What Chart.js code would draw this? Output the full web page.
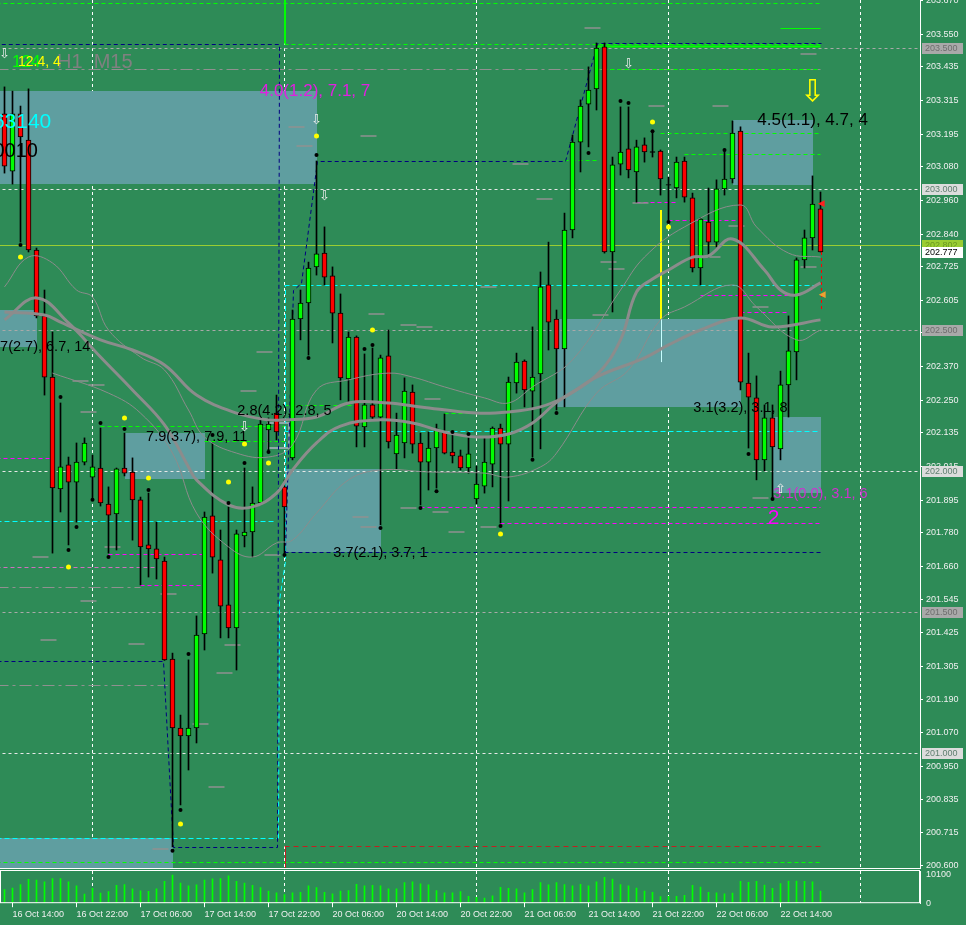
<!DOCTYPE html>
<html>
<head>
<meta charset="utf-8">
<script src="https://cdn.jsdelivr.net/npm/chart.js@4.4.1/dist/chart.umd.min.js"></script>
<style>
  html, body { margin: 0; padding: 0; background: #2e8b57; }
  #wrap { position: relative; width: 966px; height: 925px; overflow: hidden; }
  #priceChart { position: absolute; left: 0; top: 0; }
  #volChart { position: absolute; left: 0; top: 869px; }
</style>
</head>
<body>
<div id="wrap">
  <canvas id="priceChart" width="966" height="869"></canvas>
  <canvas id="volChart" width="966" height="56"></canvas>
</div>
<script>
'use strict';

/* ── Data (H1 candles, 16 Oct 13:00 → 22 Oct 19:00) ── */

var opens = [
  203.267, 203.064, 203.267, 203.174, 202.784, 202.550, 202.333, 201.936, 202.021, 201.960,
  202.031, 201.978, 202.010, 201.882, 201.847, 202.010, 201.996, 201.897, 201.737, 201.723,
  201.680, 201.332, 201.087, 201.059, 201.087, 201.421, 201.840, 201.684, 201.524, 201.442,
  201.769, 201.783, 201.886, 202.145, 202.205, 201.943, 202.046, 202.539, 202.596, 202.724,
  202.773, 202.692, 202.560, 202.326, 202.475, 202.156, 202.234, 202.191, 202.408, 202.060,
  202.099, 202.280, 202.099, 202.031, 202.081, 202.138, 202.067, 202.053, 202.010, 201.900,
  201.946, 202.024, 202.152, 202.095, 202.312, 202.390, 202.283, 202.344, 202.660, 202.539,
  202.433, 202.855, 203.167, 203.302, 203.356, 203.505, 202.777, 203.089, 203.143, 203.061,
  203.157, 203.132, 203.135, 203.015, 203.004, 203.100, 202.969, 202.720, 202.883, 202.812,
  203.001, 203.036, 203.206, 202.312, 202.259, 202.039, 202.188, 202.078, 202.305, 202.422,
  202.749, 202.827, 202.930
];
var highs = [
  203.363, 203.348, 203.295, 203.356, 202.791, 202.642, 202.493, 202.241, 202.049, 202.099,
  202.117, 202.056, 202.152, 201.943, 202.010, 202.134, 202.046, 201.907, 201.921, 201.818,
  201.694, 201.353, 201.133, 201.329, 201.485, 201.854, 202.099, 201.790, 201.872, 201.790,
  202.010, 201.943, 202.181, 202.188, 202.269, 201.968, 202.571, 202.642, 202.741, 203.100,
  202.866, 202.724, 202.628, 202.493, 202.479, 202.415, 202.436, 202.411, 202.500, 202.205,
  202.330, 202.305, 202.134, 202.138, 202.166, 202.202, 202.127, 202.074, 202.120, 202.017,
  202.120, 202.156, 202.166, 202.333, 202.418, 202.394, 202.511, 202.706, 202.812, 202.571,
  202.915, 203.192, 203.317, 203.434, 203.519, 203.519, 203.114, 203.292, 203.292, 203.174,
  203.182, 203.199, 203.139, 203.043, 203.114, 203.114, 202.986, 202.898, 203.004, 203.033,
  203.139, 203.242, 203.221, 202.418, 202.337, 202.234, 202.234, 202.354, 202.550, 202.756,
  202.855, 203.047, 202.990
];
var lows = [
  203.057, 203.018, 202.812, 202.777, 202.543, 202.269, 201.708, 201.854, 201.737, 201.818,
  202.021, 201.897, 201.875, 201.708, 201.719, 201.982, 201.754, 201.595, 201.623, 201.616,
  201.327, 200.665, 200.814, 200.938, 201.034, 201.364, 201.637, 201.407, 201.407, 201.293,
  201.730, 201.694, 201.879, 202.067, 202.110, 201.701, 202.039, 202.465, 202.411, 202.695,
  202.660, 202.454, 202.252, 202.245, 202.085, 202.085, 202.181, 201.808, 202.081, 202.007,
  202.046, 202.063, 201.879, 201.932, 201.939, 202.060, 202.028, 202.003, 201.992, 201.882,
  201.921, 201.943, 201.815, 201.893, 202.276, 202.227, 202.049, 202.078, 202.429, 202.216,
  202.227, 202.827, 203.061, 203.150, 203.281, 202.773, 202.564, 203.050, 203.040, 202.954,
  203.096, 203.114, 202.979, 202.883, 202.969, 202.954, 202.706, 202.660, 202.759, 202.795,
  202.979, 203.022, 202.287, 202.081, 201.968, 202.000, 201.897, 202.039, 202.191, 202.323,
  202.720, 202.784, 202.777
];
var closes = [
  203.082, 203.267, 203.185, 202.784, 202.550, 202.333, 201.939, 202.014, 201.960, 202.031,
  202.099, 202.014, 201.886, 201.843, 202.007, 201.992, 201.897, 201.730, 201.723, 201.687,
  201.329, 201.087, 201.059, 201.087, 201.417, 201.836, 201.694, 201.520, 201.442, 201.776,
  201.783, 201.886, 202.166, 202.166, 202.138, 201.872, 202.539, 202.596, 202.720, 202.770,
  202.688, 202.560, 202.330, 202.475, 202.159, 202.234, 202.191, 202.401, 202.103, 202.127,
  202.283, 202.095, 202.031, 202.081, 202.149, 202.063, 202.053, 202.010, 202.060, 201.953,
  202.031, 202.152, 202.095, 202.315, 202.386, 202.287, 202.333, 202.653, 202.528, 202.433,
  202.855, 203.167, 203.295, 203.352, 203.501, 202.777, 203.086, 203.132, 203.068, 203.150,
  203.132, 203.132, 203.036, 203.015, 203.096, 202.972, 202.720, 202.894, 202.812, 203.001,
  203.036, 203.199, 202.315, 202.262, 202.039, 202.188, 202.085, 202.305, 202.426, 202.749,
  202.827, 202.947, 202.777
];
var volumes = [
  4700, 5300, 6500, 8300, 8000, 7400, 8600, 8600, 7400, 6000,
  3200, 5200, 3500, 4000, 6200, 6500, 5000, 4300, 4100, 5000,
  7600, 9800, 7000, 6000, 6400, 8000, 8500, 8600, 9500, 7600,
  7000, 6200, 5400, 4200, 3600, 3000, 3600, 3800, 6000, 5400,
  3800, 3300, 4200, 4400, 6600, 6000, 6200, 6000, 5000, 5000,
  7200, 7400, 6700, 6400, 4400, 3600, 3600, 4000, 2400, 2000,
  1800, 2600, 5500, 5200, 5000, 3600, 4700, 7200, 6400, 7200,
  6500, 6000, 6600, 6000, 7400, 9000, 8400, 6500, 6000, 5300,
  4200, 3800, 2300, 2400, 2400, 2700, 6200, 5600, 3800, 3600,
  3300, 3500, 7600, 7300, 7600, 6300, 5200, 6800, 7700, 7700,
  7600, 7400, 4200
];

/* moving averages / bands, read at sample bars: [bar, price] */
var maFast = [[0,202.536],[4,202.614],[8,202.525],[12,202.404],[16,202.287],[20,202.163],[23,202.014],
  [24,201.968],[28,201.879],[31,201.872],[34,201.921],[36,202.003],[39,202.099],[42,202.159],[47,202.181],
  [51,202.170],[55,202.138],[59,202.120],[63,202.131],[66,202.170],[69,202.243],[74,202.340],[77,202.465],
  [79,202.635],[81,202.681],[83,202.713],[86,202.759],[88,202.763],[91,202.823],[95,202.713],[97,202.642],
  [99,202.624],[102,202.667]];
var maSlow = [[0,202.564],[5,202.553],[7,202.528],[12,202.465],[16,202.429],[20,202.376],[24,202.269],
  [29,202.205],[33,202.181],[35,202.181],[39,202.191],[43,202.241],[48,202.241],[52,202.227],[59,202.205],
  [63,202.209],[67,202.227],[70,202.262],[74,202.333],[80,202.401],[83,202.447],[87,202.500],[92,202.543],
  [96,202.511],[102,202.536]];
var bandUp = [[0,202.653],[3,202.759],[6,202.738],[9,202.642],[11,202.617],[13,202.500],[17,202.404],
  [20,202.358],[23,202.216],[25,202.120],[29,202.063],[33,202.049],[36,202.092],[39,202.287],[43,202.323],
  [48,202.347],[51,202.333],[55,202.298],[60,202.259],[63,202.241],[66,202.298],[71,202.394],[77,202.642],
  [80,202.759],[85,202.866],[92,202.944],[94,202.866],[98,202.773],[102,202.759]];
var bandLow = [[6,202.347],[13,202.276],[17,202.205],[21,202.063],[24,201.850],[28,201.730],[31,201.694],
  [34,201.744],[36,201.754],[39,201.850],[43,201.968],[47,202.003],[53,201.996],[60,201.992],[63,201.978],
  [67,202.014],[69,202.063],[74,202.276],[78,202.358],[82,202.536],[85,202.582],[91,202.660],[94,202.582],
  [99,202.465],[102,202.500]];

var blackDots = [[2,202.802],[7,202.262],[8,201.719],[9,201.801],[11,201.897],[12,202.170],[13,201.694],
  [15,202.149],[18,201.932],[21,200.651],[22,200.796],[23,201.350],[26,202.127],[28,201.886],[30,202.028],
  [33,202.067],[35,201.701],[38,202.401],[39,203.121],[45,202.433],[46,202.447],[47,201.797],[52,201.868],
  [54,201.928],[56,202.138],[58,202.131],[62,201.804],[66,202.039],[69,202.205],[73,203.128],[77,203.313],
  [78,203.306],[81,203.206],[83,202.883],[90,203.139],[93,202.060],[96,201.900]];
var yellowDots = [[2,202.759],[8,201.659],[15,202.188],[18,201.975],[22,200.746],[28,201.960],[30,202.095],
  [33,202.028],[39,203.189],[46,202.500],[62,201.776],[81,203.238],[83,202.866]];

/* short grey level marks: [first bar, price], each two bars long */
var levelMarks = [[36,203.221],[37,203.153],[45,203.189],[64,203.089],[67,202.965],[60,202.653],
  [73,203.572],[81,203.295],[89,203.295],[100,203.480],[75,202.741],[76,202.717],[88,202.759],[91,202.869],
  [79,202.951],[100,202.724],[4,201.694],[9,202.319],[10,202.209],[11,202.305],[30,202.283],[32,202.422],
  [13,201.730],[33,201.701],[46,202.557],[50,202.518],[52,202.511],[53,202.255],[50,201.868],[54,201.854],
  [56,201.783],[60,201.801],[44,201.836],[45,201.801],[74,202.553],[94,202.582],[94,201.904],[5,201.400],
  [10,201.538],[16,201.385],[20,201.563],[24,201.101],[26,200.878],[27,201.282],[28,201.382],[19,200.658]];

var priceTicks = [203.670, 203.550, 203.435, 203.315, 203.195, 203.080, 202.960, 202.840, 202.725,
  202.605, 202.490, 202.370, 202.250, 202.135, 202.015, 201.895, 201.780, 201.660, 201.545, 201.425,
  201.305, 201.190, 201.070, 200.950, 200.835, 200.715, 200.600];
var volTicks = [10100, 0];
var timeTickBars = [1, 9, 17, 25, 33, 41, 49, 57, 65, 73, 81, 89, 97];
var timeTickText = ['16 Oct 14:00', '16 Oct 22:00', '17 Oct 06:00', '17 Oct 14:00', '17 Oct 22:00',
  '20 Oct 06:00', '20 Oct 14:00', '20 Oct 22:00', '21 Oct 06:00', '21 Oct 14:00', '21 Oct 22:00',
  '22 Oct 06:00', '22 Oct 14:00'];
var dayBars = [11, 35, 59, 83, 107];

/* ── Overlay objects (bar / price coordinates) ── */

var zones = [
  { from: -1, to: 39, top: 203.348, bottom: 203.018 },
  { from: -1, to: 4, top: 202.571, bottom: 202.440 },
  { from: 15, to: 25, top: 202.134, bottom: 201.971 },
  { from: 35, to: 47, top: 202.007, bottom: 201.712 },
  { from: 69, to: 92, top: 202.539, bottom: 202.227 },
  { from: 91, to: 101, top: 203.245, bottom: 203.015 },
  { from: 96, to: 102, top: 202.191, bottom: 201.921 },
  { from: -1, to: 21, top: 200.697, bottom: 200.55 }
];
var outlineBoxes = [
  { from: 32.9, to: 35.6, top: 202.170, bottom: 202.081, color: '#8fa8a8' }
];

var GREEN = '#00ff00', MAGENTA = '#ff00ff', NAVY = '#000080', CYAN = '#00ffff';
var levels = [
  { p: 203.5, from: -1, to: 115, color: '#a9a9a9', dash: [3, 3] },
  { p: 203.0, from: -1, to: 115, color: '#e8e8e8', dash: [3, 3] },
  { p: 202.5, from: -1, to: 115, color: '#a9a9a9', dash: [3, 3] },
  { p: 202.0, from: -1, to: 115, color: '#e8e8e8', dash: [3, 3] },
  { p: 201.5, from: -1, to: 115, color: '#a9a9a9', dash: [3, 3] },
  { p: 201.0, from: -1, to: 115, color: '#e8e8e8', dash: [3, 3] },
  { p: 203.660, from: -1, to: 102, color: GREEN, dash: [4, 3] },
  { p: 203.427, from: -1, to: 102, color: '#909090', dash: [12, 4, 3, 4] },
  { p: 201.588, from: -1, to: 17, color: '#909090', dash: [12, 4, 3, 4] },
  { p: 201.240, from: -1, to: 20.4, color: '#909090', dash: [12, 4, 3, 4] },
  { p: 203.427, from: 74, to: 102, color: GREEN, dash: [4, 3] },
  { p: 203.516, from: 35, to: 102, color: GREEN, dash: [4, 3] },
  { p: 203.509, from: 74, to: 102, color: GREEN, dash: [], width: 2 },
  { p: 203.572, from: 97, to: 102, color: GREEN, dash: [] },
  { p: 203.199, from: 82, to: 102, color: GREEN, dash: [4, 3] },
  { p: 203.125, from: 85, to: 102, color: GREEN, dash: [4, 3] },
  { p: 203.104, from: 70, to: 74, color: GREEN, dash: [4, 3] },
  { p: 202.159, from: 12, to: 35, color: GREEN, dash: [4, 3] },
  { p: 202.106, from: 25, to: 35, color: GREEN, dash: [4, 3] },
  { p: 202.234, from: 35, to: 44, color: GREEN, dash: [4, 3] },
  { p: 202.205, from: 55, to: 58, color: GREEN, dash: [4, 3] },
  { p: 200.612, from: -1, to: 102, color: GREEN, dash: [4, 3] },
  { p: 202.660, from: 35, to: 102, color: CYAN, dash: [5, 3] },
  { p: 202.142, from: 35, to: 102, color: CYAN, dash: [5, 3] },
  { p: 201.823, from: -1, to: 34, color: CYAN, dash: [5, 3] },
  { p: 200.697, from: -1, to: 34.2, color: CYAN, dash: [5, 3] },
  { p: 201.711, from: 35, to: 102, color: NAVY, dash: [4, 3] },
  { p: 202.046, from: -1, to: 6, color: MAGENTA, dash: [4, 3] },
  { p: 201.704, from: 13, to: 25, color: MAGENTA, dash: [4, 3] },
  { p: 201.659, from: -1, to: 19, color: '#d070c0', dash: [4, 3] },
  { p: 201.595, from: 17, to: 25, color: MAGENTA, dash: [4, 3] },
  { p: 201.872, from: 52, to: 102, color: MAGENTA, dash: [4, 3] },
  { p: 201.815, from: 62, to: 102, color: MAGENTA, dash: [4, 3] },
  { p: 202.624, from: 87, to: 98, color: MAGENTA, dash: [4, 3] },
  { p: 202.564, from: 92, to: 98, color: MAGENTA, dash: [4, 3] },
  { p: 202.954, from: 79, to: 84, color: MAGENTA, dash: [4, 3] },
  { p: 202.891, from: 83, to: 92, color: MAGENTA, dash: [4, 3] },
  { p: 200.669, from: 35, to: 102, color: '#c02020', dash: [5, 4] },
  { p: 202.802, from: -1, to: 115, color: '#9acd32', dash: [] }
];

var paths = [
  { pts: [[-1, 201.325], [19.8, 201.325], [21, 200.665], [34.1, 200.665], [34.3, 203.515], [-1, 203.515]], color: NAVY, dash: [4, 3] },
  { pts: [[35, 201.711], [36.1, 202.642], [37, 202.667], [39, 203.100], [70, 203.100], [74, 203.519], [102, 203.519]], color: NAVY, dash: [4, 3] },
  { pts: [[34.2, 200.697], [34.3, 201.542], [35, 201.680], [35.1, 202.660]], color: CYAN, dash: [5, 3] }
];

var vlines = [
  { i: 35, p1: 203.516, p2: 203.70, color: GREEN, dash: [], width: 2 },
  { i: 82, p1: 202.926, p2: 202.538, color: '#ffff00', dash: [], width: 2 },
  { i: 82, p1: 202.538, p2: 202.386, color: '#c8ffff', dash: [], width: 1 },
  { i: 102, p1: 202.777, p2: 202.571, color: '#ff0000', dash: [3, 3], width: 1 },
  { i: 35, p1: 200.669, p2: 200.58, color: '#c02020', dash: [], width: 1 }
];

var notes = [
  { i: 31.9, p: 203.348, text: '4.0(1.2), 7.1, 7', color: '#e020e0', size: 17 },
  { i: 94.1, p: 203.245, text: '4.5(1.1), 4.7, 4', color: '#000000', size: 17 },
  { i: 86.1, p: 202.222, text: '3.1(3.2), 3.1, 8', color: '#000000', size: 14.5 },
  { i: 41.1, p: 201.708, text: '3.7(2.1), 3.7, 1', color: '#000000', size: 14.5 },
  { i: 29.1, p: 202.213, text: '2.8(4.2), 2.8, 5', color: '#000000', size: 14.5 },
  { i: 17.7, p: 202.120, text: '7.9(3.7), 7.9, 11', color: '#000000', size: 14.5 },
  { i: -2.06, p: 202.440, text: '6.7(2.7), 6.7, 14', color: '#000000', size: 14.5 },
  { i: 96.1, p: 201.918, text: '3.1(0.0), 3.1, 6', color: '#d030d0', size: 14.5 },
  { i: 95.4, p: 201.833, text: '2', color: '#ff00ff', size: 21 },
  { i: 6.56, p: 203.451, text: 'H1  M15', color: '#808080', size: 20 },
  { i: 0.94, p: 203.451, text: '124', color: '#00ff00', size: 17 },
  { i: 1.69, p: 203.451, text: '12.4, 4', color: '#ffff00', size: 14 },
  { i: -1.45, p: 203.238, text: '63140', color: '#00ffff', size: 21 },
  { i: -1.38, p: 203.132, text: '0010', color: '#000000', size: 20 }
];

var arrows = [
  { i: 0, p: 203.476, glyph: '\u21e9', color: '#eeeeee', size: 13 },
  { i: 30, p: 202.152, glyph: '\u21e9', color: '#eeeeee', size: 13 },
  { i: 39, p: 203.245, glyph: '\u21e9', color: '#eeeeee', size: 13 },
  { i: 40, p: 202.972, glyph: '\u21e9', color: '#eeeeee', size: 13 },
  { i: 78, p: 203.441, glyph: '\u21e9', color: '#eeeeee', size: 13 },
  { i: 97, p: 201.932, glyph: '\u21e7', color: '#eeeeee', size: 13 },
  { i: 101, p: 203.341, glyph: '\u21e9', color: '#ffff00', size: 30 },
  { i: 102.1, p: 202.948, glyph: '\u25c0', color: '#ff2020', size: 9 },
  { i: 102.2, p: 202.624, glyph: '\u25c0', color: '#f0a030', size: 9 }
];

var tags = [
  { p: 203.500, text: '203.500', bg: '#a9a9a9', fg: '#6e6e6e' },
  { p: 203.000, text: '203.000', bg: '#dcdcdc', fg: '#5f7f6f' },
  { p: 202.500, text: '202.500', bg: '#a9a9a9', fg: '#6e6e6e' },
  { p: 202.000, text: '202.000', bg: '#dcdcdc', fg: '#5f7f6f' },
  { p: 201.500, text: '201.500', bg: '#a9a9a9', fg: '#6e6e6e' },
  { p: 201.000, text: '201.000', bg: '#dcdcdc', fg: '#5f7f6f' },
  { p: 202.802, text: '202.802', bg: '#9acd32', fg: '#6b9a20' },
  { p: 202.777, text: '202.777', bg: '#ffffff', fg: '#000000' }
];

/* ── Chart setup ─────────────────────────────────────── */

Chart.defaults.font.family = "'Liberation Sans', Arial, sans-serif";
var X_MIN = -0.5625, X_MAX = 114.4375;   // 115 bar slots, 8px each
var AXIS_W = 46;
var TEXT_COL = '#f0f0f0';

function xpx(chart, i) { return chart.scales.x.getPixelForValue(i); }
function ypx(chart, p) { return chart.scales.y.getPixelForValue(p); }
function pts(list) { return list.map(function (d) { return { x: d[0], y: d[1] }; }); }

var bodyData = [], wickData = [], bodyColors = [];
for (var i = 0; i < opens.length; i++) {
  var o = opens[i], c = closes[i];
  bodyData.push({ x: i, y: Math.abs(o - c) < 0.002 ? [o - 0.0012, o + 0.0012] : [o, c] });
  wickData.push({ x: i, y: [lows[i], highs[i]] });
  bodyColors.push(c > o ? '#00ff00' : (c < o ? '#ff0000' : '#000000'));
}

var overlayPlugin = {
  id: 'overlays',
  beforeDatasetsDraw: function (chart) {
    var ctx = chart.ctx, a = chart.chartArea;
    ctx.save();
    ctx.beginPath();
    ctx.rect(a.left, a.top, a.right - a.left, a.bottom - a.top);
    ctx.clip();

    ctx.fillStyle = '#5f9ea0';
    zones.forEach(function (z) {
      var x1 = Math.round(xpx(chart, z.from)), x2 = Math.round(xpx(chart, z.to));
      var y1 = Math.round(ypx(chart, z.top)), y2 = Math.round(ypx(chart, z.bottom));
      ctx.fillRect(x1, y1, x2 - x1, y2 - y1);
    });
    outlineBoxes.forEach(function (b) {
      var x1 = Math.round(xpx(chart, b.from)), x2 = Math.round(xpx(chart, b.to));
      var y1 = Math.round(ypx(chart, b.top)), y2 = Math.round(ypx(chart, b.bottom));
      ctx.strokeStyle = b.color;
      ctx.lineWidth = 2;
      ctx.setLineDash([]);
      ctx.strokeRect(x1, y1, x2 - x1, y2 - y1);
    });

    levels.forEach(function (l) {
      var y = Math.round(ypx(chart, l.p)) + 0.5;
      ctx.strokeStyle = l.color;
      ctx.lineWidth = l.width || 1;
      ctx.setLineDash(l.dash);
      ctx.beginPath();
      ctx.moveTo(xpx(chart, l.from), y);
      ctx.lineTo(xpx(chart, l.to), y);
      ctx.stroke();
    });

    ctx.strokeStyle = '#909090';
    ctx.lineWidth = 1.5;
    ctx.setLineDash([]);
    levelMarks.forEach(function (m) {
      var y = Math.round(ypx(chart, m[1]));
      ctx.beginPath();
      ctx.moveTo(xpx(chart, m[0] - 0.5), y);
      ctx.lineTo(xpx(chart, m[0] + 1.5), y);
      ctx.stroke();
    });

    paths.forEach(function (pth) {
      ctx.strokeStyle = pth.color;
      ctx.lineWidth = 1;
      ctx.setLineDash(pth.dash);
      ctx.beginPath();
      pth.pts.forEach(function (pt, k) {
        var x = Math.round(xpx(chart, pt[0])) + 0.5, y = Math.round(ypx(chart, pt[1])) + 0.5;
        if (k === 0) ctx.moveTo(x, y); else ctx.lineTo(x, y);
      });
      ctx.stroke();
    });

    vlines.forEach(function (v) {
      var x = Math.round(xpx(chart, v.i)) + (v.width === 2 ? 0 : 0.5);
      ctx.strokeStyle = v.color;
      ctx.lineWidth = v.width;
      ctx.setLineDash(v.dash);
      ctx.beginPath();
      ctx.moveTo(x, ypx(chart, v.p1));
      ctx.lineTo(x, ypx(chart, v.p2));
      ctx.stroke();
    });
    ctx.restore();
  },
  afterDatasetsDraw: function (chart) {
    var ctx = chart.ctx, a = chart.chartArea;
    ctx.save();
    ctx.beginPath();
    ctx.rect(a.left, a.top, a.right - a.left, a.bottom - a.top);
    ctx.clip();
    ctx.textBaseline = 'middle';
    notes.forEach(function (n) {
      ctx.font = n.size + "px 'Liberation Sans', Arial, sans-serif";
      ctx.fillStyle = n.color;
      ctx.textAlign = 'left';
      ctx.fillText(n.text, xpx(chart, n.i), ypx(chart, n.p));
    });
    arrows.forEach(function (ar) {
      ctx.font = ar.size + "px 'DejaVu Sans', sans-serif";
      ctx.fillStyle = ar.color;
      ctx.textAlign = 'center';
      ctx.fillText(ar.glyph, xpx(chart, ar.i), ypx(chart, ar.p));
    });
    ctx.restore();
  },
  afterDraw: function (chart) {
    var ctx = chart.ctx, a = chart.chartArea;
    ctx.save();
    ctx.strokeStyle = '#ffffff';
    ctx.lineWidth = 1;
    ctx.beginPath();
    ctx.moveTo(a.left, a.bottom - 0.5);
    ctx.lineTo(a.right, a.bottom - 0.5);
    ctx.stroke();
    ctx.font = "9px 'Liberation Sans', Arial, sans-serif";
    ctx.textBaseline = 'middle';
    ctx.textAlign = 'left';
    tags.forEach(function (t) {
      var y = Math.round(ypx(chart, t.p));
      ctx.fillStyle = t.bg;
      ctx.fillRect(a.right + 2, y - 5, 41, 11);
      ctx.fillStyle = t.fg;
      ctx.fillText(t.text, a.right + 5, y + 0.5);
    });
    ctx.restore();
  }
};

new Chart(document.getElementById('priceChart'), {
  type: 'bar',
  data: {
    datasets: [
      { type: 'line', data: pts(blackDots), showLine: false, pointRadius: 2, pointBackgroundColor: '#000000', pointBorderWidth: 0, order: -2 },
      { type: 'line', data: pts(yellowDots), showLine: false, pointRadius: 2.5, pointBackgroundColor: '#ffff00', pointBorderWidth: 0, order: -2 },
      { type: 'line', data: pts(maFast), borderColor: '#8c8c8c', borderWidth: 3, pointRadius: 0, tension: 0.4, order: -1 },
      { type: 'line', data: pts(maSlow), borderColor: '#8c8c8c', borderWidth: 3, pointRadius: 0, tension: 0.4, order: -1 },
      { type: 'line', data: pts(bandUp), borderColor: '#8c8c8c', borderWidth: 1, pointRadius: 0, tension: 0.4, order: -1 },
      { type: 'line', data: pts(bandLow), borderColor: '#8c8c8c', borderWidth: 1, pointRadius: 0, tension: 0.4, order: -1 },
      { data: bodyData, backgroundColor: bodyColors, borderColor: '#000000', borderWidth: 1, borderSkipped: false,
        barThickness: 5, grouped: false, order: 1 },
      { data: wickData, backgroundColor: '#000000', barThickness: 1, grouped: false, order: 2 }
    ]
  },
  options: {
    responsive: false,
    animation: false,
    events: [],
    layout: { padding: 0, autoPadding: false },
    plugins: { legend: { display: false }, tooltip: { enabled: false } },
    scales: {
      x: {
        type: 'linear', min: X_MIN, max: X_MAX, offset: false,
        afterBuildTicks: function (s) { s.ticks = dayBars.map(function (v) { return { value: v }; }); },
        afterFit: function (s) { s.paddingLeft = 0; s.paddingRight = 0; },
        ticks: { display: false },
        grid: { color: '#ffffff', drawTicks: false, offset: false },
        border: { display: false, dash: [3, 3] }
      },
      y: {
        position: 'right', min: 200.5866, max: 203.6715, beginAtZero: false,
        afterBuildTicks: function (s) { s.ticks = priceTicks.map(function (v) { return { value: v }; }); },
        afterFit: function (s) { s.width = AXIS_W; s.paddingTop = 0; s.paddingBottom = 0; },
        ticks: { color: TEXT_COL, font: { size: 9 }, padding: 3, callback: function (v) { return v.toFixed(3); } },
        grid: { drawOnChartArea: false, tickLength: 3, color: '#ffffff' },
        border: { display: true, color: '#ffffff' }
      }
    }
  },
  plugins: [overlayPlugin]
});

/* ── Volume sub-window ──────────────────────────────── */

var volFrame = {
  id: 'volFrame',
  afterDraw: function (chart) {
    var ctx = chart.ctx, a = chart.chartArea;
    ctx.save();
    ctx.strokeStyle = '#ffffff';
    ctx.lineWidth = 1;
    ctx.strokeRect(a.left + 0.5, a.top - 0.5, a.right - a.left - 1, a.bottom - a.top);
    ctx.restore();
  }
};

new Chart(document.getElementById('volChart'), {
  type: 'bar',
  data: {
    datasets: [{
      data: volumes.map(function (v, k) { return { x: k, y: v }; }),
      backgroundColor: '#00ff00', barThickness: 1, grouped: false
    }]
  },
  options: {
    responsive: false,
    animation: false,
    events: [],
    layout: { padding: { top: 2, bottom: 3, left: 0, right: 0 }, autoPadding: false },
    plugins: { legend: { display: false }, tooltip: { enabled: false } },
    scales: {
      x: {
        type: 'linear', min: X_MIN, max: X_MAX, offset: false,
        afterBuildTicks: function (s) {
          s.ticks = timeTickBars.concat(dayBars).map(function (v) { return { value: v }; });
        },
        afterFit: function (s) { s.paddingLeft = 0; s.paddingRight = 0; },
        ticks: {
          autoSkip: false, maxRotation: 0, minRotation: 0, align: 'start', padding: 2,
          color: TEXT_COL, font: { size: 9 },
          callback: function (v) { var k = timeTickBars.indexOf(v); return k < 0 ? '' : timeTickText[k]; }
        },
        grid: {
          offset: false, tickLength: 4,
          color: function (c) { return c.tick && dayBars.indexOf(c.tick.value) >= 0 ? '#ffffff' : 'rgba(0,0,0,0)'; },
          tickColor: function (c) { return c.tick && timeTickBars.indexOf(c.tick.value) >= 0 ? '#ffffff' : 'rgba(0,0,0,0)'; }
        },
        border: { display: false, dash: [3, 3] }
      },
      y: {
        position: 'right', min: 0, max: 11200, beginAtZero: true,
        afterBuildTicks: function (s) { s.ticks = volTicks.map(function (v) { return { value: v }; }); },
        afterFit: function (s) { s.width = AXIS_W; s.paddingTop = 0; s.paddingBottom = 0; },
        ticks: { color: TEXT_COL, font: { size: 9 }, padding: 6, callback: function (v) { return String(v); } },
        grid: { drawOnChartArea: false, drawTicks: false },
        border: { display: true, color: '#ffffff' }
      }
    }
  },
  plugins: [volFrame]
});
</script>
</body>
</html>
